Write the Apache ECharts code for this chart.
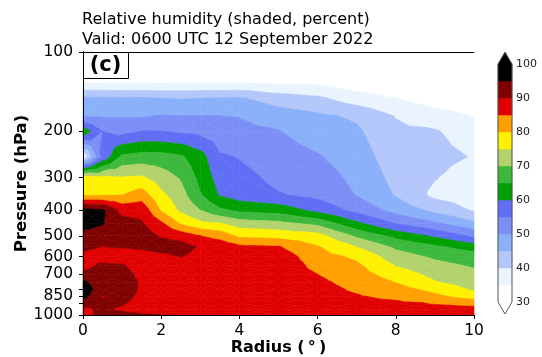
<!DOCTYPE html>
<html>
<head>
<meta charset="utf-8">
<script src="https://cdn.jsdelivr.net/npm/echarts@6/dist/echarts.min.js"></script>
<style>
  html, body { margin: 0; padding: 0; background: #ffffff; }
  #chart { width: 542px; height: 357px; }
</style>
</head>
<body>
<div id="chart"></div>
<script>
// Radius (degrees) and pressure levels (hPa) of the RH grid
const radii = [0, 0.5, 1, 1.5, 2, 2.5, 3, 3.5, 4, 5, 6, 7, 8, 9, 10];
const pressures = [100, 125, 150, 175, 200, 250, 300, 350, 400, 450, 500, 550, 600, 650, 700, 750, 800, 850, 900, 950, 1000];

// Relative humidity (%) on each pressure level, one value per radius
const rh100  = [25, 25, 25, 25, 26, 27, 27, 27, 27, 28, 28, 28, 28, 28, 28];
const rh125  = [31, 31, 31, 31, 31.3, 31.5, 31.5, 31.5, 31.5, 31.1, 31.6, 30, 29.2, 29, 28.8];
const rh150  = [45.8, 45.8, 45.5, 45.5, 45, 44.8, 45, 45.2, 45.5, 42.7, 41, 37.2, 35, 32.2, 31.5];
const rh175  = [49.5, 49.5, 49.5, 49.5, 50.3, 50, 50, 50, 49.8, 47.4, 45.9, 44.2, 39.8, 37.3, 34.7];
const rh200  = [63, 55, 53.5, 55, 55, 54.2, 53.6, 52.2, 51.4, 50.2, 47.6, 45.8, 40.9, 40.4, 37.5];
const rh250  = [36, 56, 66, 67, 67, 65.7, 62, 55.6, 54.7, 52.1, 50.4, 47.4, 42.3, 41.5, 39.7];
const rh300  = [77, 76, 75.3, 75.7, 72.5, 69.5, 63.5, 57.7, 56.6, 53.7, 52.4, 48.7, 43.5, 40.3, 37.5];
const rh350  = [79.5, 79.8, 80, 82.5, 76.1, 72, 65.5, 59.5, 57.5, 55.4, 53.6, 49.8, 44.6, 38.8, 37.5];
const rh400  = [97, 95.8, 88.5, 88.5, 79.6, 74.1, 70, 66.1, 64, 62.9, 58.6, 53.5, 48.2, 43.7, 39.5];
const rh450  = [98, 95.3, 92, 90.6, 86.1, 79.6, 76.3, 75.5, 72.7, 71.6, 68.9, 61.3, 54.9, 51, 46.3];
const rh500  = [92, 92, 92.3, 92.5, 89.5, 88, 85, 83, 79, 78.2, 76.9, 69.1, 63.5, 59.1, 53.9];
const rh550  = [91, 90, 90.4, 91, 92.5, 92, 89.5, 88.5, 86, 85.3, 80.3, 74.9, 69, 65.9, 62.6];
const rh600  = [89, 88, 87.5, 87.5, 88.5, 90.2, 88.5, 88.5, 88, 88, 82, 79.1, 72.3, 69.2, 67.6];
const rh650  = [88.5, 91, 90.5, 88, 87.5, 88, 88, 88, 88, 88.5, 83.5, 81, 74.8, 71.5, 69.5];
const rh700  = [91, 92, 91.5, 89, 88, 87.5, 87.5, 87.5, 87.5, 88, 85, 82.2, 77.6, 73.5, 71.3];
const rh750  = [96, 92, 92, 89.5, 88.5, 87.5, 87.5, 87.5, 87.5, 87.5, 86, 83.3, 79.8, 75.3, 72.9];
const rh800  = [98, 92, 92, 89.5, 88.5, 87.5, 87.5, 87, 87.5, 87.5, 86.5, 84.4, 82.1, 78.5, 74.3];
const rh850  = [97, 89.8, 91.5, 89, 88.5, 87.5, 87, 87, 87, 87, 86.5, 85.4, 83.9, 81.3, 77.5];
const rh900  = [91, 91, 90.5, 88.5, 88, 87.5, 87, 87, 87, 87, 86.5, 86, 85.8, 84.7, 83.3];
const rh950  = [89.5, 90.5, 89.5, 88, 87.5, 87, 87, 87, 87, 86.5, 86.5, 86, 86, 86, 86.5];
const rh1000 = [89, 90.8, 91, 90.6, 90.2, 88.5, 89, 89.5, 88.5, 88, 87.5, 87.5, 87, 86.5, 87];

const rhRows = [rh100, rh125, rh150, rh175, rh200, rh250, rh300, rh350, rh400, rh450,
                rh500, rh550, rh600, rh650, rh700, rh750, rh800, rh850, rh900, rh950, rh1000];

// Shading levels and colours (one colour per 5 % band), plus the two extensions
const bandEdges = [30, 35, 40, 45, 50, 55, 60, 65, 70, 75, 80, 85, 90, 95, 100];
const bandColors = ['#ffffff', '#e9f4fe', '#b4c7fb', '#8bb0fa', '#7b8ff7', '#5f6ef4',
                    '#00a000', '#3cb83c', '#b2d36b', '#fff200', '#ffa000', '#e10000',
                    '#800000', '#000000'];
const underColor = '#ffffff';
const overColor = '#000000';

// Axis ticks
const pressureTicks = [100, 200, 300, 400, 500, 600, 700, 850, 1000];
const pressureMinorTicks = [800, 900];
const radiusTicks = [0, 2, 4, 6, 8, 10];

const FONT = '"DejaVu Sans", sans-serif';
const lg = Math.log10;

// One item per grid cell: r0, r1, logp0, logp1, and corner values
const cells = [];
for (let j = 0; j < pressures.length - 1; j++) {
  for (let i = 0; i < radii.length - 1; i++) {
    cells.push([radii[i], radii[i + 1], lg(pressures[j]), lg(pressures[j + 1]),
      rhRows[j][i], rhRows[j][i + 1], rhRows[j + 1][i + 1], rhRows[j + 1][i]]);
  }
}

const fillLows = [-Infinity].concat(bandEdges);
const fillHighs = bandEdges.concat([Infinity]);
const fillColors = [underColor].concat(bandColors, [overColor]);

// Clip a polygon (points carry [x, y, value]) against value >= t or value <= t
function clipAt(poly, t, keepAbove) {
  const out = [];
  const n = poly.length;
  for (let k = 0; k < n; k++) {
    const cur = poly[k], prev = poly[(k + n - 1) % n];
    const inCur = keepAbove ? cur[2] >= t : cur[2] <= t;
    const inPrev = keepAbove ? prev[2] >= t : prev[2] <= t;
    if (inCur !== inPrev) {
      const f = (t - prev[2]) / (cur[2] - prev[2]);
      out.push([prev[0] + f * (cur[0] - prev[0]), prev[1] + f * (cur[1] - prev[1]), t]);
    }
    if (inCur) out.push(cur);
  }
  return out;
}

// Filled contours of one cell: split into four triangles about the centre
function renderCell(params, api) {
  const r0 = api.value(0), r1 = api.value(1), q0 = api.value(2), q1 = api.value(3);
  const a = api.coord([r0, q0]), b = api.coord([r1, q0]);
  const c = api.coord([r1, q1]), d = api.coord([r0, q1]);
  const va = api.value(4), vb = api.value(5), vc = api.value(6), vd = api.value(7);
  const P = [[a[0], a[1], va], [b[0], b[1], vb], [c[0], c[1], vc], [d[0], d[1], vd]];
  const m = [(a[0] + c[0]) / 2, (a[1] + c[1]) / 2, (va + vb + vc + vd) / 4];
  const children = [];
  for (let k = 0; k < 4; k++) {
    const tri = [P[k], P[(k + 1) % 4], m];
    const lo = Math.min(tri[0][2], tri[1][2], tri[2][2]);
    const hi = Math.max(tri[0][2], tri[1][2], tri[2][2]);
    for (let s = 0; s < fillColors.length; s++) {
      if (fillHighs[s] < lo || fillLows[s] > hi) continue;
      let poly = tri;
      if (isFinite(fillLows[s])) poly = clipAt(poly, fillLows[s], true);
      if (poly.length >= 3 && isFinite(fillHighs[s])) poly = clipAt(poly, fillHighs[s], false);
      if (poly.length < 3) continue;
      children.push({
        type: 'polygon',
        shape: { points: poly.map(p => [p[0], p[1]]) },
        style: { fill: fillColors[s], stroke: fillColors[s], lineWidth: 0.6, lineJoin: 'round' }
      });
    }
  }
  return { type: 'group', children };
}

// Colour bar bands
const barItems = bandColors.map((col, k) => [0, 1, bandEdges[k], bandEdges[k + 1], k]);

function renderBand(params, api) {
  const p0 = api.coord([api.value(0), api.value(3)]);
  const p1 = api.coord([api.value(1), api.value(2)]);
  return {
    type: 'rect',
    shape: { x: p0[0], y: p0[1], width: p1[0] - p0[0], height: p1[1] - p0[1] },
    style: { fill: bandColors[api.value(4)], stroke: bandColors[api.value(4)], lineWidth: 0.5 }
  };
}

// Colour bar extension triangles and outline
function renderBarFrame(params, api) {
  const tl = api.coord([api.value(0), api.value(3)]);
  const tr = api.coord([api.value(1), api.value(3)]);
  const bl = api.coord([api.value(0), api.value(2)]);
  const br = api.coord([api.value(1), api.value(2)]);
  const cx = (tl[0] + tr[0]) / 2;
  const h = 12;
  const topTip = [cx, tl[1] - h];
  const botTip = [cx, bl[1] + h];
  return {
    type: 'group',
    children: [
      { type: 'polygon', shape: { points: [tl, topTip, tr] }, style: { fill: overColor } },
      { type: 'polygon', shape: { points: [bl, br, botTip] }, style: { fill: underColor } },
      { type: 'polygon', shape: { points: [tl, topTip, tr, br, botTip, bl] },
        style: { fill: 'none', stroke: '#555555', lineWidth: 1 } }
    ]
  };
}

const chart = echarts.init(document.getElementById('chart'), null, { renderer: 'canvas' });

const axisText = { color: '#000', fontFamily: FONT };

chart.setOption({
  animation: false,
  backgroundColor: '#ffffff',
  title: {
    text: 'Relative humidity (shaded, percent)\nValid: 0600 UTC 12 September 2022',
    left: 82, top: 10, padding: 0,
    textStyle: { fontFamily: FONT, fontSize: 16, fontWeight: 'normal', color: '#000', lineHeight: 20 }
  },
  grid: [
    { left: 83, top: 52, width: 391, height: 263, containLabel: false, outerBoundsMode: 'none' },
    { left: 498, top: 64, width: 14, height: 238, containLabel: false, outerBoundsMode: 'none' }
  ],
  xAxis: [
    {
      gridIndex: 0, type: 'value', min: 0, max: 10, interval: 2, position: 'bottom', z: 10,
      name: 'Radius (\u2009\u00b0\u2009)', nameLocation: 'middle', nameGap: 25, nameMoveOverlap: false,
      nameTextStyle: { fontFamily: FONT, fontSize: 16, fontWeight: 'bold', color: '#000' },
      axisLine: { show: true, lineStyle: { color: '#000', width: 1 } },
      axisTick: { show: true, length: 4, lineStyle: { color: '#000' }, customValues: radiusTicks },
      axisLabel: Object.assign({ fontSize: 15.5, margin: 8, customValues: radiusTicks }, axisText),
      splitLine: { show: false }
    },
    {
      gridIndex: 0, type: 'value', min: 0, max: 10, position: 'top', z: 10,
      axisLine: { show: true, lineStyle: { color: '#000', width: 1 } },
      axisTick: { show: false }, axisLabel: { show: false }, splitLine: { show: false }
    },
    {
      gridIndex: 1, type: 'value', min: 0, max: 1, show: false
    }
  ],
  yAxis: [
    {
      gridIndex: 0, type: 'value', min: 2, max: 3, inverse: true, position: 'left', z: 10,
      name: 'Pressure (hPa)', nameLocation: 'middle', nameGap: 53, nameMoveOverlap: false,
      nameTextStyle: { fontFamily: FONT, fontSize: 16.5, fontWeight: 'bold', color: '#000' },
      axisLine: { show: true, lineStyle: { color: '#000', width: 1 } },
      axisTick: { show: true, length: 4, lineStyle: { color: '#000' },
        customValues: pressureTicks.concat(pressureMinorTicks).map(lg) },
      axisLabel: Object.assign({
        fontSize: 15.5, margin: 10,
        customValues: pressureTicks.map(lg),
        formatter: v => String(Math.round(Math.pow(10, v)))
      }, axisText),
      splitLine: { show: false }
    },
    {
      gridIndex: 0, type: 'value', min: 2, max: 3, inverse: true, position: 'right', z: 10,
      axisLine: { show: true, lineStyle: { color: '#000', width: 1 } },
      axisTick: { show: false }, axisLabel: { show: false }, splitLine: { show: false }
    },
    {
      gridIndex: 1, type: 'value', min: 30, max: 100, interval: 10, position: 'right',
      axisLine: { show: false },
      axisTick: { show: true, length: 3, lineStyle: { color: '#333' } },
      axisLabel: Object.assign({ fontSize: 11, margin: 4 }, axisText, { color: '#222' }),
      splitLine: { show: false }
    }
  ],
  series: [
    {
      type: 'custom', name: 'RH', xAxisIndex: 0, yAxisIndex: 0, silent: true,
      renderItem: renderCell, data: cells,
      encode: { x: [0, 1], y: [2, 3] }, z: 2
    },
    {
      type: 'custom', name: 'bands', xAxisIndex: 2, yAxisIndex: 2, silent: true,
      renderItem: renderBand, data: barItems,
      encode: { x: [0, 1], y: [2, 3] }, z: 2
    },
    {
      type: 'custom', name: 'bar frame', xAxisIndex: 2, yAxisIndex: 2, silent: true,
      renderItem: renderBarFrame, data: [[0, 1, bandEdges[0], bandEdges[bandEdges.length - 1]]],
      encode: { x: [0, 1], y: [2, 3] }, z: 3, clip: false
    }
  ],
  graphic: [
    {
      type: 'rect', left: 83, top: 52, z: 100,
      shape: { width: 45, height: 26 },
      style: { fill: '#ffffff', stroke: '#000', lineWidth: 1 }
    },
    {
      type: 'text', x: 105.5, y: 65.5, z: 101,
      style: { text: '(c)', font: 'bold 21px "DejaVu Sans", sans-serif', fill: '#000',
               align: 'center', verticalAlign: 'middle' }
    }
  ]
});
</script>
</body>
</html>
